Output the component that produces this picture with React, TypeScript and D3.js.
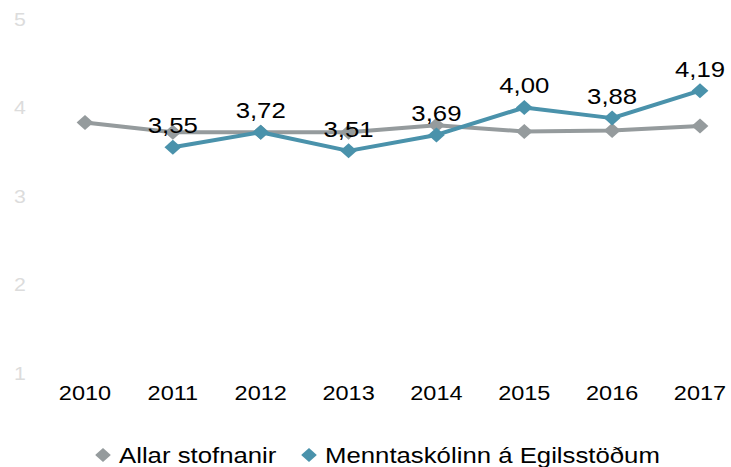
import React from 'react';
import * as d3 from 'd3';

// Data
const years = ['2010', '2011', '2012', '2013', '2014', '2015', '2016', '2017'];
const allarStofnanir = [3.83, 3.72, 3.72, 3.72, 3.8, 3.73, 3.74, 3.79];
const menntaskolinn: (number | null)[] = [null, 3.55, 3.72, 3.51, 3.69, 4.0, 3.88, 4.19];
const yTicks = [1, 2, 3, 4, 5];
const seriesNames = ['Allar stofnanir', 'Menntaskólinn á Egilsstöðum'];

const GRAY = '#959b9d';
const BLUE = '#4a92ab';

// the reference is slightly stretched horizontally, so draw in a narrower viewBox
const STRETCH = 1.12;
const SCREEN_W = 731;
const SCREEN_H = 467;
const VB_W = SCREEN_W / STRETCH;

const diamond = (cx: number, cy: number, r: number) =>
  `M${cx},${cy - r}L${cx + r},${cy}L${cx},${cy + r}L${cx - r},${cy}Z`;

const fmt = (v: number) => v.toFixed(2).replace('.', ',');

const App: React.FC = () => {
  const xScale = d3.scalePoint<string>()
    .domain(years)
    .range([85 / STRETCH, 700 / STRETCH]);

  const yScale = d3.scaleLinear()
    .domain([1, 5])
    .range([373, 19]);

  const line = d3.line<number | null>()
    .defined(d => d !== null)
    .x((d, i) => xScale(years[i])!)
    .y(d => yScale(d as number));

  const series = [
    { name: seriesNames[0], values: allarStofnanir as (number | null)[], color: GRAY },
    { name: seriesNames[1], values: menntaskolinn, color: BLUE },
  ];

  const font = 'Arial, "Liberation Sans", Helvetica, sans-serif';

  return (
    <div style={{ position: 'absolute', left: 0, top: 0 }}>
      <svg
        width={SCREEN_W}
        height={SCREEN_H}
        viewBox={`0 0 ${VB_W} ${SCREEN_H}`}
        preserveAspectRatio="none"
        style={{ display: 'block', background: '#fff' }}
        fontFamily={font}
      >
        {/* y tick labels */}
        {yTicks.map(t => (
          <text key={t} x={20 / STRETCH} y={yScale(t) + 7} textAnchor="middle" fontSize={19} fill="#dcdcdc">
            {t}
          </text>
        ))}

        {/* x tick labels */}
        {years.map(y => (
          <text key={y} x={xScale(y)!} y={400} textAnchor="middle" fontSize={21} fill="#000">
            {y}
          </text>
        ))}

        {/* lines + markers */}
        {series.map(s => (
          <g key={s.name}>
            <path d={line(s.values) || ''} fill="none" stroke={s.color} strokeWidth={4} strokeLinejoin="round" />
            {s.values.map((v, i) =>
              v === null ? null : (
                <path key={i} d={diamond(xScale(years[i])!, yScale(v), 7.5)} fill={s.color} />
              )
            )}
          </g>
        ))}

        {/* data labels */}
        {menntaskolinn.map((v, i) =>
          v === null ? null : (
            <text key={i} x={xScale(years[i])!} y={yScale(v) - 14} textAnchor="middle" fontSize={23} fill="#000">
              {fmt(v)}
            </text>
          )
        )}

        {/* legend */}
        <g>
          <path d={diamond(103 / STRETCH, 455, 7)} fill={GRAY} />
          <text x={119 / STRETCH} y={463} fontSize={23} fill="#000">{seriesNames[0]}</text>
          <path d={diamond(309 / STRETCH, 455, 7)} fill={BLUE} />
          <text x={325 / STRETCH} y={463} fontSize={23} fill="#000">{seriesNames[1]}</text>
        </g>
      </svg>
    </div>
  );
};

export default App;
